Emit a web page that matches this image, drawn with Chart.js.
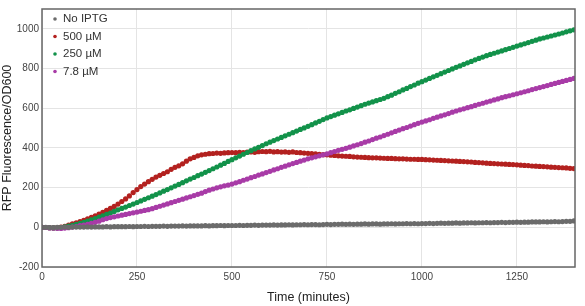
<!DOCTYPE html>
<html>
<head>
<meta charset="utf-8">
<title>RFP Fluorescence</title>
<script src="https://cdn.jsdelivr.net/npm/chart.js@4.4.0/dist/chart.umd.min.js"></script>
<style>
    html, body { margin: 0; padding: 0; background: #fff; }
    #wrap { width: 585px; height: 306px; }
</style>
</head>
<body>
<div id="wrap"><canvas id="rfpChart" width="585" height="306"></canvas></div>
<script>
// Dados (minutos)
const times = [
    0, 10, 20, 30, 40, 50, 60, 70, 80, 90, 100,
    110, 120, 130, 140, 150, 160, 170, 180, 190, 200,
    210, 220, 230, 240, 250, 260, 270, 280, 290, 300,
    310, 320, 330, 340, 350, 360, 370, 380, 390, 400,
    410, 420, 430, 440, 450, 460, 470, 480, 490, 500,
    510, 520, 530, 540, 550, 560, 570, 580, 590, 600,
    610, 620, 630, 640, 650, 660, 670, 680, 690, 700,
    710, 720, 730, 740, 750, 760, 770, 780, 790, 800,
    810, 820, 830, 840, 850, 860, 870, 880, 890, 900,
    910, 920, 930, 940, 950, 960, 970, 980, 990, 1000,
    1010, 1020, 1030, 1040, 1050, 1060, 1070, 1080, 1090, 1100,
    1110, 1120, 1130, 1140, 1150, 1160, 1170, 1180, 1190, 1200,
    1210, 1220, 1230, 1240, 1250, 1260, 1270, 1280, 1290, 1300,
    1310, 1320, 1330, 1340, 1350, 1360, 1370, 1380, 1390, 1400
];

const noIptg = [
    0, 0, -1, -1, 0, 0, 1, 0, 1, 1, 1,
    1, 2, 1, 2, 2, 2, 3, 2, 3, 3,
    3, 3, 4, 3, 4, 4, 5, 4, 5, 5,
    5, 6, 5, 6, 6, 6, 7, 6, 7, 7,
    7, 7, 8, 7, 8, 8, 9, 8, 9, 9,
    9, 10, 9, 10, 10, 11, 10, 11, 11, 11,
    12, 11, 12, 12, 13, 12, 13, 13, 14, 13,
    14, 14, 13, 14, 15, 14, 15, 15, 16, 15,
    16, 15, 16, 16, 17, 16, 17, 17, 16, 17,
    17, 18, 17, 18, 18, 19, 18, 19, 18, 19,
    19, 20, 19, 20, 21, 20, 21, 21, 22, 21,
    22, 22, 23, 22, 23, 23, 24, 23, 24, 24,
    25, 24, 25, 25, 26, 25, 26, 26, 27, 27,
    27, 28, 27, 28, 29, 28, 29, 30, 30, 32
];

const iptg500 = [
    0, -1, -2, -3, -2, 1, 5, 11, 17, 23, 29,
    35, 42, 50, 58, 66, 75, 85, 95, 105, 117,
    130, 143, 158, 175, 190, 205, 218, 230, 242, 253,
    262, 271, 280, 292, 302, 310, 320, 333, 345, 352,
    360, 365, 368, 371, 372, 374, 373, 375, 376, 377,
    376, 378, 377, 379, 380, 378, 381, 382, 381, 383,
    380, 381, 379, 380, 378, 380, 377, 376, 374, 373,
    371, 370, 368, 366, 365, 363, 362, 360, 359, 358,
    357, 355, 354, 353, 352, 351, 350, 350, 349, 348,
    347, 347, 346, 345, 345, 344, 343, 343, 342, 342,
    341, 340, 339, 338, 337, 336, 335, 334, 333, 332,
    331, 330, 329, 327, 326, 325, 323, 322, 321, 320,
    319, 318, 317, 316, 315, 313, 312, 311, 309, 308,
    307, 306, 305, 303, 302, 301, 300, 299, 297, 296
];

const iptg250 = [
    0, -1, -2, -3, -3, -1, 2, 6, 10, 15, 20,
    25, 31, 38, 44, 51, 58, 65, 72, 80, 88,
    95, 102, 110, 117, 125, 133, 141, 149, 157, 165,
    173, 182, 190, 199, 208, 216, 225, 234, 243, 251,
    260, 268, 277, 286, 295, 304, 313, 322, 332, 341,
    350, 359, 368, 377, 386, 395, 403, 412, 421, 429,
    437, 445, 453, 461, 469, 477, 485, 493, 501, 509,
    517, 526, 534, 543, 551, 558, 565, 572, 579, 586,
    592, 599, 606, 613, 620, 626, 632, 638, 644, 650,
    658, 666, 675, 683, 692, 700, 709, 717, 726, 734,
    742, 750, 758, 766, 774, 782, 790, 798, 806, 813,
    821, 829, 836, 844, 851, 858, 865, 871, 877, 883,
    889, 895, 901, 907, 913, 919, 925, 931, 937, 943,
    949, 954, 959, 964, 969, 974, 979, 985, 990, 995
];

const iptg78 = [
    0, -1, -3, -4, -5, -6, -4, -2, 1, 4, 8,
    11, 15, 20, 25, 31, 38, 44, 49, 53, 57,
    61, 65, 69, 73, 77, 81, 85, 89, 94, 100,
    106, 112, 118, 124, 130, 136, 142, 148, 154, 160,
    166, 172, 180, 187, 193, 199, 204, 209, 213, 218,
    224, 230, 237, 243, 250, 256, 263, 269, 276, 282,
    289, 295, 302, 308, 315, 321, 327, 333, 339, 345,
    350, 355, 360, 365, 370, 376, 382, 388, 393, 398,
    404, 410, 416, 422, 429, 435, 442, 449, 455, 462,
    469, 476, 483, 490, 497, 503, 510, 517, 524, 530,
    536, 542, 549, 555, 561, 567, 573, 580, 586, 592,
    597, 603, 608, 614, 620, 625, 631, 636, 642, 647,
    653, 658, 663, 668, 673, 678, 683, 688, 694, 699,
    704, 709, 714, 720, 725, 730, 735, 740, 745, 750
];

const seriesLabels = ['No IPTG', '500 \u00b5M', '250 \u00b5M', '7.8 \u00b5M'];
const xTicks = [0, 250, 500, 750, 1000, 1250];
const yTicks = [-200, 0, 200, 400, 600, 800, 1000];

const colors = ['#6b6b6b', '#b3211f', '#12924a', '#a83ba7'];
const tickFont = { family: '"Liberation Sans Narrow", "Arial Narrow", sans-serif', size: 10 };
const titleFont = { family: '"Liberation Sans", Arial, sans-serif', size: 12.5 };

document.addEventListener('DOMContentLoaded', () => {
    buildChart();
});

function toPoints(values) {
    return values.map((v, i) => ({ x: times[i], y: v }));
}

function makeDataset(label, values, color, order) {
    return {
        label: label,
        data: toPoints(values),
        backgroundColor: color,
        borderColor: color,
        showLine: false,
        pointRadius: 2.6,
        pointBorderWidth: 0,
        order: order
    };
}

// Moldura do gráfico + legenda dentro da área
const framePlugin = {
    id: 'frameAndLegend',
    afterDatasetsDraw(chart) {
        const { ctx, chartArea } = chart;
        ctx.save();
        ctx.strokeStyle = '#666';
        ctx.lineWidth = 1.5;
        ctx.strokeRect(chartArea.left, chartArea.top, chartArea.right - chartArea.left, chartArea.bottom - chartArea.top);

        ctx.font = '11.5px "Liberation Sans", Arial, sans-serif';
        ctx.textBaseline = 'middle';
        chart.data.datasets.forEach((ds, i) => {
            const y = chartArea.top + 10 + i * 17.5;
            ctx.fillStyle = ds.backgroundColor;
            ctx.beginPath();
            ctx.arc(chartArea.left + 13, y, 1.8, 0, Math.PI * 2);
            ctx.fill();
            ctx.fillStyle = '#333';
            ctx.fillText(ds.label, chartArea.left + 21, y);
        });
        ctx.restore();
    }
};

function buildChart() {
    const ctx = document.getElementById('rfpChart').getContext('2d');
    window.rfpChart = new Chart(ctx, {
        type: 'line',
        data: {
            datasets: [
                makeDataset(seriesLabels[0], noIptg, colors[0], 1),
                makeDataset(seriesLabels[1], iptg500, colors[1], 4),
                makeDataset(seriesLabels[2], iptg250, colors[2], 3),
                makeDataset(seriesLabels[3], iptg78, colors[3], 2)
            ]
        },
        options: {
            responsive: false,
            animation: false,
            layout: { padding: { top: 7, right: 10, left: 0, bottom: 0 } },
            plugins: {
                legend: { display: false },
                tooltip: { enabled: false }
            },
            scales: {
                x: {
                    type: 'linear',
                    min: 0,
                    max: 1403,
                    afterBuildTicks: scale => { scale.ticks = xTicks.map(v => ({ value: v })); },
                    afterFit: scale => { scale.height = 39; },
                    grid: { color: '#e4e4e4', lineWidth: 1, drawTicks: false },
                    border: { display: false },
                    ticks: { font: tickFont, color: '#444', padding: 4, maxRotation: 0, callback: v => String(v) },
                    title: { display: true, text: 'Time (minutes)', font: titleFont, color: '#222', padding: { top: 4, bottom: 1 } }
                },
                y: {
                    type: 'linear',
                    min: -200,
                    max: 1100,
                    afterBuildTicks: scale => { scale.ticks = yTicks.map(v => ({ value: v })); },
                    afterFit: scale => { scale.width = 42; },
                    grid: { color: '#e4e4e4', lineWidth: 1, drawTicks: false },
                    border: { display: false },
                    ticks: { font: tickFont, color: '#444', padding: 3, callback: v => String(v) },
                    title: { display: true, text: 'RFP Fluorescence/OD600', font: titleFont, color: '#222', padding: { top: 0, bottom: 0 } }
                }
            }
        },
        plugins: [framePlugin]
    });
}
</script>
</body>
</html>
